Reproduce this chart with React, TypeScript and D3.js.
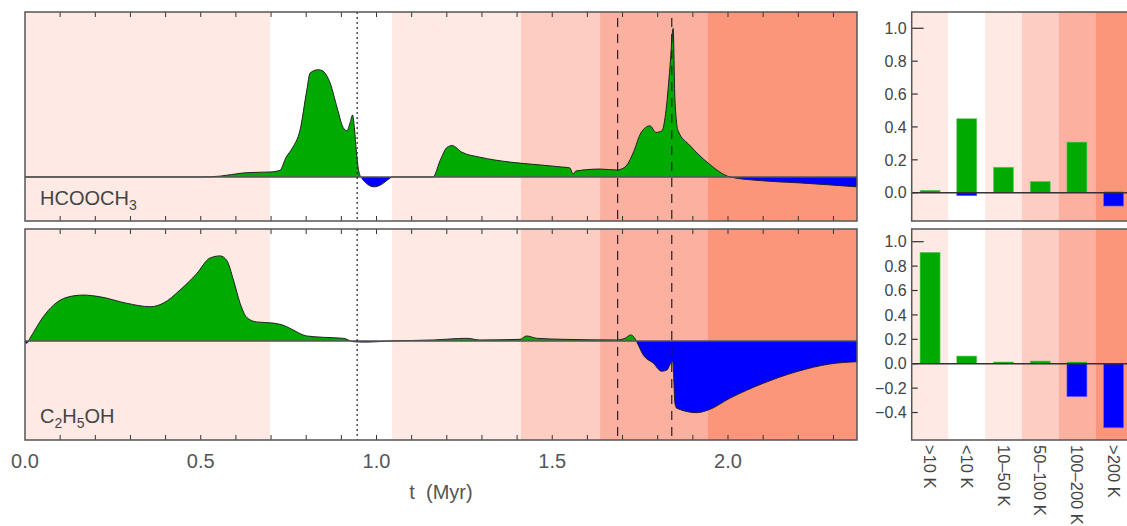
import React from "react";
import * as d3 from "d3";

// ---------- data ----------
const hcoTime = [0, 0.5, 0.555, 0.62, 0.66, 0.697, 0.725, 0.743, 0.762, 0.782, 0.802, 0.811, 0.834, 0.845, 0.868, 0.888, 0.905, 0.916, 0.925, 0.932, 0.937, 0.943, 0.95, 0.959, 0.97, 0.993, 1.01, 1.038, 1.044, 1.161, 1.181, 1.201, 1.215, 1.243, 1.294, 1.38, 1.465, 1.528, 1.55, 1.559, 1.567, 1.636, 1.684, 1.707, 1.73, 1.753, 1.778, 1.795, 1.812, 1.824, 1.835, 1.844, 1.849, 1.858, 1.892, 1.943, 2.006, 2.091, 2.205, 2.29, 2.367];
const hcoValue = [0, 0, 0.005, 0.024, 0.028, 0.03, 0.04, 0.12, 0.18, 0.28, 0.53, 0.63, 0.65, 0.645, 0.57, 0.42, 0.3, 0.28, 0.33, 0.376, 0.3, 0.15, 0.03, -0.01, -0.036, -0.06, -0.05, -0.008, 0, 0, 0.1, 0.18, 0.19, 0.15, 0.12, 0.09, 0.073, 0.06, 0.055, 0.018, 0.036, 0.048, 0.042, 0.06, 0.145, 0.27, 0.31, 0.27, 0.28, 0.41, 0.67, 0.9, 0.47, 0.28, 0.19, 0.085, 0.0, -0.022, -0.036, -0.048, -0.06];

const etoTime = [0, 0.005, 0.014, 0.052, 0.081, 0.119, 0.166, 0.213, 0.289, 0.356, 0.393, 0.441, 0.488, 0.526, 0.555, 0.574, 0.593, 0.612, 0.631, 0.659, 0.706, 0.74, 0.763, 0.801, 0.849, 0.906, 0.934, 0.972, 1.038, 1.162, 1.257, 1.294, 1.408, 1.427, 1.456, 1.531, 1.683, 1.707, 1.723, 1.733, 1.74, 1.759, 1.788, 1.811, 1.826, 1.837, 1.843, 1.849, 1.854, 1.911, 1.944, 2.006, 2.1, 2.195, 2.29, 2.368];
const etoValue = [-0.01, -0.02, 0.024, 0.217, 0.32, 0.39, 0.41, 0.395, 0.337, 0.306, 0.337, 0.455, 0.6, 0.74, 0.76, 0.72, 0.545, 0.337, 0.21, 0.17, 0.16, 0.134, 0.098, 0.045, 0.033, 0.024, -0.006, -0.01, 0, 0.009, 0.024, 0.009, 0.015, 0.045, 0.024, 0.015, 0.009, 0.024, 0.054, 0.033, -0.006, -0.125, -0.2, -0.27, -0.26, -0.2, -0.185, -0.556, -0.6, -0.64, -0.616, -0.51, -0.378, -0.274, -0.205, -0.185];

const phaseEdges = [0, 0.697, 1.044, 1.411, 1.636, 1.943, 2.367];
const phaseColors = ["#fee9e5", "#ffffff", "#fee9e5", "#fdcdc2", "#fcb1a0", "#fb967b"];
const dottedLines = [0.945];
const dashedLines = [1.686, 1.84];
const xTickLabels = [0, 0.5, 1.0, 1.5, 2.0];

const categories = [">10 K", "<10 K", "10\u201350 K", "50\u2013100 K", "100\u2013200 K", ">200 K"];
const hcoBarPos = [0.015, 0.45, 0.155, 0.069, 0.308, 0.008];
const hcoBarNeg = [0, -0.018, 0, 0, 0, -0.081];
const etoBarPos = [0.913, 0.063, 0.014, 0.022, 0.014, 0];
const etoBarNeg = [0, 0, 0, 0, -0.27, -0.525];
const hcoBarTicks = [0, 0.2, 0.4, 0.6, 0.8, 1.0];
const etoBarTicks = [-0.4, -0.2, 0, 0.2, 0.4, 0.6, 0.8, 1.0];

// ---------- layout ----------
const W = 1127, H = 526;
const LX0 = 25, LX1 = 857;
const RX0 = 911.7, RX1 = 1132;
const panels = [
  { top: 12, bottom: 221, dom: [-0.267, 1], t: hcoTime, v: hcoValue, name: "hco", bdom: [-0.172, 1.099], pos: hcoBarPos, neg: hcoBarNeg, ticks: hcoBarTicks },
  { top: 229, bottom: 440, dom: [-0.884, 1], t: etoTime, v: etoValue, name: "eto", bdom: [-0.625, 1.104], pos: etoBarPos, neg: etoBarNeg, ticks: etoBarTicks },
];

const GREEN = "#00aa00";
const BLUE = "#0000ff";
const FRAME = "#555";
const FONT = "'Liberation Sans', Arial, sans-serif";

const x = d3.scaleLinear().domain([0, 2.367]).range([LX0, LX1]);
const xb = d3.scaleBand().domain(categories).range([RX0, RX1]).padding(0);
const minorTicks = d3.range(1, 24).map((i) => i / 10);

function Label({ idx }: { idx: number }) {
  const sub = { fontSize: 14 };
  if (idx === 0) {
    return (
      <text x={40} y={205} fontFamily={FONT} fontSize={20} fill="#444">
        HCOOCH<tspan dy={5} {...sub}>3</tspan>
      </text>
    );
  }
  return (
    <text x={40} y={423} fontFamily={FONT} fontSize={20} fill="#444">
      C<tspan dy={5} {...sub}>2</tspan>
      <tspan dy={-5}>H</tspan>
      <tspan dy={5} {...sub}>5</tspan>
      <tspan dy={-5}>OH</tspan>
    </text>
  );
}

export default function App() {
  const fmt = d3.format(".1f");
  return (
    <svg width={W} height={H} style={{ position: "absolute", left: 0, top: 0, background: "#fff" }}>
      {panels.map((p, idx) => {
        const y = d3.scaleLinear().domain(p.dom).range([p.bottom, p.top]);
        const y0 = y(0);
        const pts = p.t.map((t, i) => ({ t, v: p.v[i] }));
        const area = d3.area<{ t: number; v: number }>().x((d) => x(d.t)).y0(y0).y1((d) => y(d.v)).curve(d3.curveMonotoneX);
        const line = d3.line<{ t: number; v: number }>().x((d) => x(d.t)).y((d) => y(d.v)).curve(d3.curveMonotoneX);
        const yb = d3.scaleLinear().domain(p.bdom).range([p.bottom, p.top]);
        const yb0 = yb(0);
        const bw = 20;
        return (
          <g key={p.name}>
            <defs>
              <clipPath id={`above-${p.name}`}>
                <rect x={LX0} y={p.top} width={LX1 - LX0} height={y0 - p.top} />
              </clipPath>
              <clipPath id={`below-${p.name}`}>
                <rect x={LX0} y={y0} width={LX1 - LX0} height={p.bottom - y0} />
              </clipPath>
            </defs>
            {/* phase backgrounds */}
            {phaseColors.map((c, i) => (
              <rect key={i} x={x(phaseEdges[i])} y={p.top} width={x(phaseEdges[i + 1]) - x(phaseEdges[i])} height={p.bottom - p.top} fill={c} />
            ))}
            <path d={area(pts) || ""} fill={GREEN} clipPath={`url(#above-${p.name})`} />
            <path d={area(pts) || ""} fill={BLUE} clipPath={`url(#below-${p.name})`} />
            <path d={line(pts) || ""} fill="none" stroke="#222" strokeWidth={1} />
            <line x1={LX0} x2={LX1} y1={y0} y2={y0} stroke={FRAME} strokeWidth={1.5} />
            {dottedLines.map((t) => (
              <line key={t} x1={x(t)} x2={x(t)} y1={p.top} y2={p.bottom} stroke="#222" strokeWidth={1.2} strokeDasharray="2,3" />
            ))}
            {dashedLines.map((t) => (
              <line key={t} x1={x(t)} x2={x(t)} y1={p.top + 6} y2={p.bottom} stroke="#222" strokeWidth={1.2} strokeDasharray="9,7" />
            ))}
            {minorTicks.map((t) => (
              <g key={t}>
                <line x1={x(t)} x2={x(t)} y1={p.top} y2={p.top + 5} stroke="#333" strokeWidth={1} />
                <line x1={x(t)} x2={x(t)} y1={p.bottom} y2={p.bottom - 5} stroke="#333" strokeWidth={1} />
              </g>
            ))}
            <rect x={LX0} y={p.top} width={LX1 - LX0} height={p.bottom - p.top} fill="none" stroke={FRAME} strokeWidth={1.5} />
            <Label idx={idx} />

            {/* bar panel */}
            {categories.map((c, i) => (
              <rect key={c} x={xb(c)} y={p.top} width={xb.bandwidth()} height={p.bottom - p.top} fill={phaseColors[i]} />
            ))}
            {categories.map((c, i) => (
              <g key={"b" + c}>
                {p.pos[i] > 0 && (
                  <rect x={(xb(c) as number) + xb.bandwidth() / 2 - bw / 2} y={yb(p.pos[i])} width={bw} height={yb0 - yb(p.pos[i])} fill={GREEN} stroke="#66cc66" strokeWidth={0.6} />
                )}
                {p.neg[i] < 0 && (
                  <rect x={(xb(c) as number) + xb.bandwidth() / 2 - bw / 2} y={yb0} width={bw} height={yb(p.neg[i]) - yb0} fill={BLUE} stroke="#6666ff" strokeWidth={0.6} />
                )}
              </g>
            ))}
            <line x1={RX0} x2={RX1} y1={yb0} y2={yb0} stroke="#333" strokeWidth={1.5} />
            {p.ticks.map((v) => (
              <g key={v}>
                <line x1={RX0} x2={RX0 + (v === 1 ? 12 : 6)} y1={yb(v)} y2={yb(v)} stroke="#333" strokeWidth={1.2} />
                <text x={RX0 - 5} y={yb(v)} dy="0.36em" textAnchor="end" fontFamily={FONT} fontSize={16} fill="#444">
                  {fmt(v)}
                </text>
              </g>
            ))}
            <rect x={RX0} y={p.top} width={RX1 - RX0} height={p.bottom - p.top} fill="none" stroke={FRAME} strokeWidth={1.5} />
          </g>
        );
      })}

      {/* x axis labels */}
      {xTickLabels.map((t) => (
        <text key={t} x={x(t)} y={468} textAnchor="middle" fontFamily={FONT} fontSize={20} fill="#555">
          {fmt(t)}
        </text>
      ))}
      <text x={(LX0 + LX1) / 2} y={499} textAnchor="middle" fontFamily={FONT} fontSize={20} fill="#555" style={{ whiteSpace: "pre" }}>
        {"t  (Myr)"}
      </text>

      {/* category labels, rotated */}
      {categories.map((c) => (
        <text
          key={c}
          transform={`translate(${(xb(c) as number) + xb.bandwidth() / 2},445) rotate(90)`}
          dy="0.36em"
          fontFamily={FONT}
          fontSize={16.5}
          fill="#444"
        >
          {c}
        </text>
      ))}
    </svg>
  );
}
